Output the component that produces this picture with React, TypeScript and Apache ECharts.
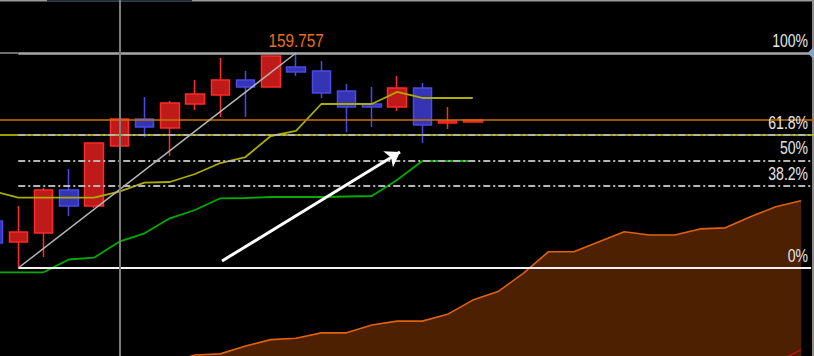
import React, { useEffect, useRef } from "react";
import * as echarts from "echarts";

// ---- data ----
const CATEGORIES = [
  "1", "2", "3", "4", "5", "6", "7", "8", "9", "10", "11",
  "12", "13", "14", "15", "16", "17", "18", "19", "20", "21", "22",
  "23", "24", "25", "26", "27", "28", "29", "30", "31", "32", "33",
];

// [open, close, low, high]
const CANDLES = [
  [153.618, 152.814, 152.631, 153.873],
  [152.85, 153.216, 151.9, 154.166],
  [153.179, 154.75, 152.302, 154.824],
  [154.75, 154.166, 153.8, 155.518],
  [154.166, 156.468, 154.093, 156.468],
  [156.358, 157.345, 156.358, 157.345],
  [157.345, 157.053, 156.687, 158.149],
  [157.016, 157.93, 155.993, 158.003],
  [157.893, 158.259, 157.674, 158.77],
  [158.222, 158.77, 157.418, 159.574],
  [158.77, 158.515, 157.418, 159.099],
  [158.515, 159.647, 158.515, 159.647],
  [159.245, 159.063, 158.917, 159.757],
  [159.099, 158.295, 158.113, 159.465],
  [158.368, 157.784, 156.87, 158.624],
  [157.893, 157.784, 157.053, 158.515],
  [157.784, 158.478, 157.637, 158.917],
  [158.478, 157.126, 156.468, 158.661],
  [157.199, 157.272, 156.98, 157.784],
  [157.236, 157.309, 157.236, 157.309],
];

const YELLOW_LINE = [
  154.714, 154.469, 154.469, 154.469, 154.469, 154.688, 155.017, 155.043,
  155.335, 155.737, 155.956, 156.724, 156.907, 157.893, 157.893, 157.893,
  158.332, 158.113, 158.113, 158.113,
];

const GREEN_LINE = [
  151.743, 151.743, 151.743, 152.211, 152.276, 152.861, 153.168, 153.716,
  154.02, 154.447, 154.458, 154.495, 154.495, 154.495, 154.513, 154.531,
  155.116, 155.81, 155.81, 155.81,
];

// lower indicator (own scale)
const INDICATOR = [
  null, null, null, null, null, null, null, -2.0,
  0.3, 0.6, 2.8, 4.6, 5.0, 6.5, 6.5, 8.7, 9.8, 9.8, 11.7, 15.7,
  18.1, 23.2, 29.3, 29.3, 32.1, 34.9, 34.0, 34.0, 35.7, 36.0, 39.1, 41.9, 43.6,
];
const INDICATOR_RED = [
  null, null, null, null, null, null, null, null, null, null, null,
  null, null, null, null, null, null, null, null, null, null, null,
  null, null, null, null, null, null, null, null, null, -1.8, 1.7,
];

const FIB_LOW = { index: 1, price: 151.9 };
const FIB_HIGH = { index: 12, price: 159.757 };
const FIB_LEVELS = [0, 0.382, 0.5, 0.618, 1];
const FIB_LABELS = ["0%", "38.2%", "50%", "61.8%", "100%"];

const YELLOW_HLINE = 156.78;
const CROSSHAIR_INDEX = 5;
const ARROW = [
  [9.07, 152.156],
  [16.12, 156.139],
];

const N = CATEGORIES.length;
const pad = (a: (number | null)[]) => [...a, ...Array(N - a.length).fill(null)];

const FONT = "'Liberation Sans', Arial, sans-serif";

export default function App() {
  const ref = useRef<HTMLDivElement>(null);

  useEffect(() => {
    document.body.style.margin = "0";
    document.body.style.background = "#000";
    const chart = echarts.init(ref.current!, undefined, { renderer: "svg" });

    const lastClose = CANDLES[CANDLES.length - 1][1];
    const range = FIB_HIGH.price - FIB_LOW.price;
    const lastX = N - 1 + 0.4;

    const fibLines = FIB_LEVELS.map((lv) => {
      const price = FIB_LOW.price + lv * range;
      const lineStyle =
        lv === 0
          ? { color: "#f2f2f2", width: 2, type: "solid" }
          : lv === 1
          ? { color: "#a8a8a8", width: 2.5, type: "solid" }
          : { color: "#b4b4b4", width: 2, type: [7, 3, 2, 3] };
      return [{ coord: [FIB_LOW.index, price], lineStyle }, { coord: [lastX, price] }];
    });

    const borders = [
      { id: "b1", type: "rect", z: 1, shape: { x: 0, y: 0, width: 814, height: 1.5 }, style: { fill: "#9a9a9a" } },
      { id: "b2", type: "rect", z: 1, shape: { x: 47, y: 0, width: 145, height: 1.5 }, style: { fill: "#1c2e40" } },
      { id: "b3", type: "rect", z: 1, shape: { x: 812, y: 0, width: 2, height: 356 }, style: { fill: "#8c8c8c" } },
    ];

    const option: any = {
      backgroundColor: "#000",
      animation: false,
      grid: {
        left: -19.625,
        right: 0.375,
        top: 0,
        bottom: 0,
        outerBoundsMode: "none",
      },
      xAxis: [
        { type: "category", data: CATEGORIES, boundaryGap: true, show: false },
        { type: "value", min: -0.5, max: N - 0.5, show: false },
      ],
      yAxis: [
        { type: "value", min: 148.684, max: 161.694, show: false, splitLine: { show: false } },
        { type: "value", min: 0, max: 100, show: false, splitLine: { show: false } },
      ],
      graphic: borders,
      series: [
        {
          type: "line",
          name: "indicator",
          xAxisIndex: 0,
          yAxisIndex: 1,
          data: INDICATOR,
          showSymbol: false,
          symbol: "none",
          lineStyle: { color: "#e0620e", width: 1.6 },
          areaStyle: { color: "#4c2000", origin: "start", opacity: 1 },
        },
        {
          type: "line",
          name: "indicator2",
          xAxisIndex: 0,
          yAxisIndex: 1,
          data: INDICATOR_RED,
          showSymbol: false,
          symbol: "none",
          lineStyle: { color: "#c01010", width: 1.5 },
        },
        {
          type: "candlestick",
          name: "price",
          xAxisIndex: 0,
          yAxisIndex: 0,
          data: CANDLES,
          barWidth: 19,
          itemStyle: {
            color: "#bf1a1a",
            color0: "#3434b4",
            borderColor: "#ff2a2a",
            borderColor0: "#4a4ae6",
            borderWidth: 1.5,
          },
        },
        {
          type: "line",
          name: "yellow",
          xAxisIndex: 0,
          yAxisIndex: 0,
          data: pad(YELLOW_LINE),
          showSymbol: false,
          symbol: "none",
          lineStyle: { color: "#acac00", width: 1.8 },
        },
        {
          type: "line",
          name: "green",
          xAxisIndex: 0,
          yAxisIndex: 0,
          data: pad(GREEN_LINE),
          showSymbol: false,
          symbol: "none",
          lineStyle: { color: "#00ac00", width: 1.8 },
        },
        {
          type: "line",
          name: "annotations",
          xAxisIndex: 1,
          yAxisIndex: 0,
          data: [],
          markLine: {
            silent: true,
            symbol: ["none", "none"],
            animation: false,
            label: { show: false },
            data: [
              { yAxis: YELLOW_HLINE, lineStyle: { color: "#d2d200", width: 1.7, type: "solid" } },
              { yAxis: lastClose, lineStyle: { color: "#c87400", width: 1.7, type: "solid" } },
              ...fibLines,
              [
                { coord: [-0.45, FIB_HIGH.price], lineStyle: { color: "#6e6e6e", width: 2, type: "solid" } },
                { coord: [FIB_LOW.index, FIB_HIGH.price] },
              ],
              [
                { coord: [FIB_LOW.index, FIB_LOW.price], lineStyle: { color: "#b4b4b4", width: 1.5, type: "solid" } },
                { coord: [FIB_HIGH.index, FIB_HIGH.price] },
              ],
              { xAxis: CROSSHAIR_INDEX, lineStyle: { color: "#7c7c7c", width: 2, type: "solid" } },
            ],
          },
          markPoint: {
            silent: true,
            animation: false,
            data: [
              {
                coord: [lastX, FIB_HIGH.price],
                symbol: "triangle",
                symbolRotate: 90,
                symbolSize: [14, 7],
                itemStyle: { color: "#86a4c8" },
                label: { show: false },
              },
            ],
          },
        },
        {
          type: "line",
          name: "arrow",
          xAxisIndex: 1,
          yAxisIndex: 0,
          data: [],
          markLine: {
            silent: true,
            animation: false,
            symbol: ["none", "arrow"],
            symbolSize: 14,
            label: { show: false },
            lineStyle: { color: "#ffffff", width: 3, type: "solid" },
            data: [[{ coord: ARROW[0] }, { coord: ARROW[1] }]],
          },
        },
      ],
    };

    chart.setOption(option);

    // texts placed through the chart's own scales
    const finder = { xAxisIndex: 1, yAxisIndex: 0 };
    const texts: any[] = FIB_LEVELS.map((lv, i) => {
      const price = FIB_LOW.price + lv * range;
      const p = chart.convertToPixel(finder as any, [lastX, price]) as number[];
      return {
        id: "fib" + i,
        type: "text",
        z: 50,
        x: p[0] - 3,
        y: p[1] - 4,
        scaleX: 0.78,
        style: {
          text: FIB_LABELS[i],
          fill: "#e6e6e6",
          font: "18px " + FONT,
          textAlign: "right",
          textVerticalAlign: "bottom",
        },
      };
    });
    const hp = chart.convertToPixel(finder as any, [FIB_HIGH.index, FIB_HIGH.price]) as number[];
    texts.push({
      id: "high",
      type: "text",
      z: 50,
      x: hp[0],
      y: hp[1] - 3,
      scaleX: 0.85,
      style: {
        text: FIB_HIGH.price.toFixed(3),
        fill: "#e8701a",
        font: "18px " + FONT,
        textAlign: "center",
        textVerticalAlign: "bottom",
      },
    });
    chart.setOption({ graphic: [...borders, ...texts] });

    return () => chart.dispose();
  }, []);

  return <div ref={ref} style={{ width: 814, height: 356 }} />;
}
